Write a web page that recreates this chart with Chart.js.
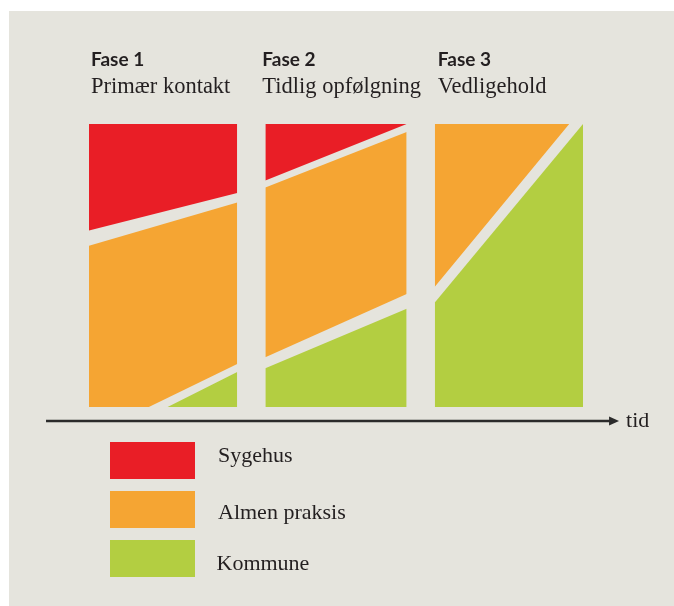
<!DOCTYPE html>
<html>
<head>
<meta charset="utf-8">
<title>Faser</title>
<script src="https://cdn.jsdelivr.net/npm/chart.js@4.4.1/dist/chart.umd.min.js"></script>
<style>
	body { margin: 0; background: #ffffff; }
	#wrap { width: 674px; height: 606px; }
</style>
</head>
<body>
<div id="wrap"><canvas id="mycanvas" width="674" height="606"></canvas></div>
<script>
// phases along the time axis (tid, 0-100)
var phases = ["Fase 1", "Fase 2", "Fase 3"];
var phaseNames = ["Primær kontakt", "Tidlig opfølgning", "Vedligehold"];
var phaseStart = [0, 35.7, 70];
var phaseEnd = [30, 64.3, 100];

var series = ["Sygehus", "Almen praksis", "Kommune"];
var colors = ["#e91e26", "#f5a533", "#b3ce41"];

// upper / lower edge of each share (%), [at phase start, at phase end]
// edges that run past 0 or 100 are cut by the frame
var sygehusTop = [[100, 100], [100, 100], null];
var sygehusBottom = [[62.4, 75.6], [80, 100], null];
var almenTop = [[57, 72.3], [77.6, 97.2], [100, 100]];
var almenBottom = [[-10.3, 15.2], [17.6, 39.9], [42.5, 105.9]];
var kommuneTop = [[-14, 12.4], [13.7, 34.7], [36.9, 100]];
var kommuneBottom = [[0, 0], [0, 0], [0, 0]];

var tops = [sygehusTop, almenTop, kommuneTop];
var bottoms = [sygehusBottom, almenBottom, kommuneBottom];

var bg = "#e5e4dd";
var ink = "#231f20";

function edge(v, p) {
	return [{x: phaseStart[p], y: v[0]}, {x: phaseEnd[p], y: v[1]}];
}

var datasets = [];
for (var p = 0; p < phases.length; p++) {
	for (var s = 0; s < series.length; s++) {
		if (!tops[s][p]) continue;
		datasets.push({
			label: series[s],
			data: edge(tops[s][p], p),
			borderColor: "rgba(0,0,0,0)",
			pointRadius: 0,
			fill: false
		});
		datasets.push({
			label: series[s],
			data: edge(bottoms[s][p], p),
			borderColor: "rgba(0,0,0,0)",
			backgroundColor: colors[s],
			pointRadius: 0,
			fill: "-1"
		});
	}
}

var decor = {
	id: "decor",
	beforeDraw: function(chart) {
		var c = chart.ctx;
		c.save();
		c.fillStyle = "#ffffff";
		c.fillRect(0, 0, chart.width, chart.height);
		c.fillStyle = bg;
		c.fillRect(9, 11, chart.width - 9, chart.height - 11);
		c.restore();
	},
	afterDraw: function(chart) {
		var c = chart.ctx;
		var xs = chart.scales.x;
		var ys = chart.scales.y;
		c.save();

		// phase headings
		var nudge = [2, -3, 3];
		c.fillStyle = ink;
		c.textBaseline = "alphabetic";
		for (var i = 0; i < phases.length; i++) {
			var tx = xs.getPixelForValue(phaseStart[i]) + nudge[i];
			c.font = "bold 19px Lato";
			c.fillText(phases[i], tx, 66);
			c.font = "22.5px 'Liberation Serif'";
			c.fillText(phaseNames[i], tx, 93);
		}

		// time arrow
		var ay = ys.getPixelForValue(0) + 14;
		var x0 = xs.getPixelForValue(-8.7);
		var x1 = xs.getPixelForValue(107.3);
		c.strokeStyle = "#2b2b2b";
		c.lineWidth = 2.5;
		c.beginPath();
		c.moveTo(x0, ay);
		c.lineTo(x1 - 6, ay);
		c.stroke();
		c.fillStyle = "#2b2b2b";
		c.beginPath();
		c.moveTo(x1, ay);
		c.lineTo(x1 - 10, ay - 4.5);
		c.lineTo(x1 - 10, ay + 4.5);
		c.closePath();
		c.fill();
		c.fillStyle = ink;
		c.font = "22px 'Liberation Serif'";
		c.fillText("tid", x1 + 7, ay + 6);

		// legend
		var boxTop = [442, 491, 540];
		var textX = [218, 218, 216.5];
		var textY = [461.5, 518.5, 569.5];
		for (var k = 0; k < series.length; k++) {
			c.fillStyle = colors[k];
			c.fillRect(110, boxTop[k], 85, 37);
			c.fillStyle = ink;
			c.font = "22px 'Liberation Serif'";
			c.fillText(series[k], textX[k], textY[k]);
		}
		c.restore();
	}
};

var ctx = document.getElementById("mycanvas");

var phaseChart = new Chart(ctx, {
	type: "line",
	data: {datasets: datasets},
	plugins: [decor],
	options: {
		responsive: false,
		animation: false,
		devicePixelRatio: 1,
		events: [],
		layout: {padding: {left: 89, top: 124, right: 91, bottom: 199}},
		elements: {line: {tension: 0, borderWidth: 0}},
		plugins: {
			legend: {display: false},
			tooltip: {enabled: false}
		},
		scales: {
			x: {type: "linear", min: 0, max: 100, display: false},
			y: {min: 0, max: 100, display: false}
		}
	}
});
</script>
</body>
</html>
